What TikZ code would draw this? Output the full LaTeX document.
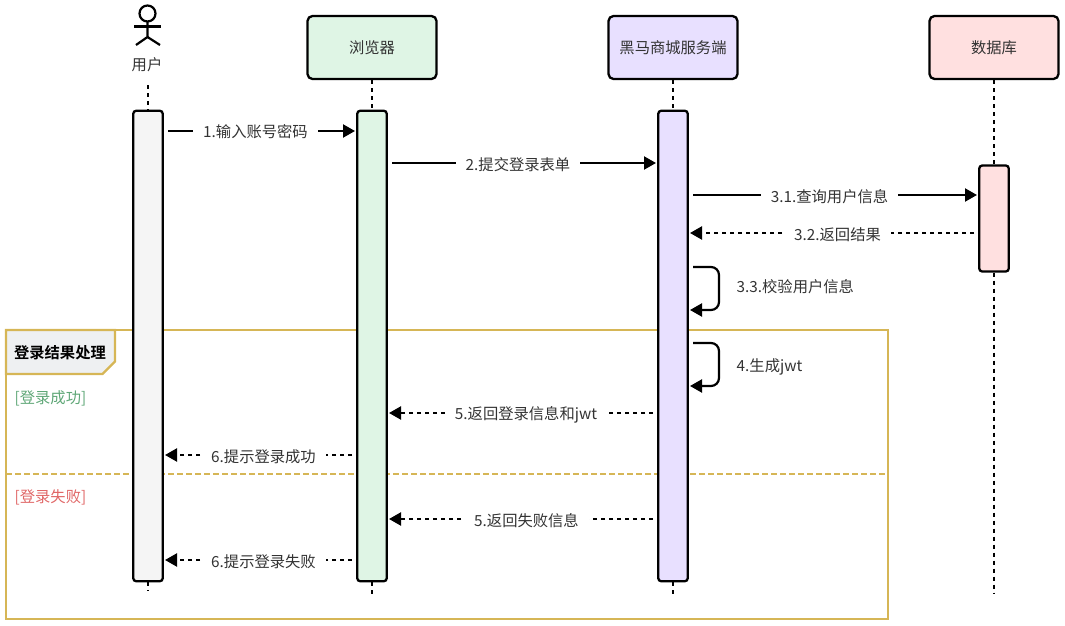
\documentclass[tikz,border=0pt]{standalone}
\usepackage{fontspec}
\setmainfont[BoldFont={Noto Sans CJK SC Bold}]{Noto Sans CJK SC}
\usetikzlibrary{arrows.meta, positioning, calc}
\definecolor{seqblack}{HTML}{000000}
\definecolor{seqtext}{HTML}{333333}
\definecolor{seqgold}{HTML}{D6B656}
\definecolor{seqgray}{HTML}{F5F5F5}
\definecolor{seqgreen}{HTML}{DFF5E5}
\definecolor{seqpurple}{HTML}{E8E0FF}
\definecolor{seqred}{HTML}{FFE0E0}
\definecolor{seqhead}{HTML}{EEF0F2}
\definecolor{seqok}{HTML}{5FA777}
\definecolor{seqfail}{HTML}{E06666}
\tikzset{
  every node/.style={font=\fontsize{15.3}{18}\selectfont, text=seqtext},
  party/.style={draw=seqblack, line width=2.3pt, rounded corners=5pt,
    minimum width=129pt, minimum height=63pt, inner sep=0pt},
  bar/.style={draw=seqblack, line width=2.3pt, rounded corners=3pt,
    minimum width=29.5pt, inner sep=0pt},
  lifeline/.style={line width=2pt, dash pattern=on 4pt off 4pt},
  msg/.style={line width=2.2pt, -{Triangle[length=12pt,width=13pt]}},
  reply/.style={msg, dash pattern=on 4pt off 4pt},
  msglabel/.style={fill=white, inner xsep=10pt, inner ysep=1pt}
}

\begin{document}
\begin{tikzpicture}[x=1pt, y=-1pt]
  \useasboundingbox (0,0) rectangle (1065,626);

  % Frame
  \draw[seqgold, line width=2.2pt] (6,330) rectangle (888,619);
  \draw[seqgold, line width=2.2pt, fill=seqhead]
    (6,330) -- (115,330) -- (115,361.5) -- (102.5,374) -- (6,374) -- cycle;
  \draw[seqgold, line width=2pt, dash pattern=on 5.5pt off 3.5pt] (6,474) -- (888,474);
  \node[font=\fontsize{15.3}{18}\selectfont\bfseries, text=black] (frametitle) at (60,353) {登录结果处理};
  \node[text=seqok, right, inner sep=0pt] (caseok) at (14.5,398.5) {[登录成功]};
  \node[text=seqfail, right, inner sep=0pt] (casefail) at (14.5,497) {[登录失败]};

  % Actor
  \draw[line width=2.2pt] (147.5,13.5) circle (8);
  \draw[line width=2.2pt] (134,26.5) -- (161,26.5);
  \draw[line width=2.2pt] (147.5,21.5) -- (147.5,37) -- (136,45);
  \draw[line width=2.2pt] (147.5,37) -- (160,45);
  \node[inner sep=0pt] (user) at (147,65) {用户};

  % Participants
  \node[party, fill=seqgreen]  (browser) at (372,47.5) {浏览器};
  \node[party, fill=seqpurple] (server)  at (673,47.5) {黑马商城服务端};
  \node[party, fill=seqred]    (db)      at (994,47.5) {数据库};

  % Activation bars
  \node[bar, fill=seqgray,   minimum height=470.5pt] (userbar)    at (148,346)   {};
  \node[bar, fill=seqgreen,  minimum height=470.5pt] (browserbar) at (372,346)   {};
  \node[bar, fill=seqpurple, minimum height=470.5pt] (serverbar)  at (673,346)   {};
  \node[bar, fill=seqred,    minimum height=106pt]   (dbbar)      at (994,218.5) {};

  % Lifelines
  \coordinate (userstart)  at (148,85);
  \coordinate (userend)    at (148,591);
  \coordinate (browserend) at (372,594);
  \coordinate (serverend)  at (673,595);
  \coordinate (dbend)      at (994,593);
  \draw[lifeline] (userstart) -- (userbar.north);
  \draw[lifeline] (browser.south) -- (browserbar.north);
  \draw[lifeline] (server.south) -- (serverbar.north);
  \draw[lifeline] (db.south) -- (dbbar.north);
  \draw[lifeline] (userbar.south) -- (userend);
  \draw[lifeline] (browserbar.south) -- (browserend);
  \draw[lifeline] (serverbar.south) -- (serverend);
  \draw[lifeline] (dbbar.south) -- (dbend);

  % Message end points
  \coordinate (m1a) at (168,131);   \coordinate (m1b) at (355,131);
  \coordinate (m2a) at (392,163);   \coordinate (m2b) at (656,163);
  \coordinate (m3a) at (693,195);   \coordinate (m3b) at (977,195);
  \coordinate (m4a) at (974,233);   \coordinate (m4b) at (690,233);
  \coordinate (m7a) at (653,413);   \coordinate (m7b) at (389,413);
  \coordinate (m8a) at (352,455);   \coordinate (m8b) at (165,455);
  \coordinate (m9a) at (653,519);   \coordinate (m9b) at (389,519);
  \coordinate (m10a) at (352,560);  \coordinate (m10b) at (165,560);

  % Requests
  \draw[msg] (m1a) -- (m1b);
  \draw[msg] (m2a) -- (m2b);
  \draw[msg] (m3a) -- (m3b);

  % Replies
  \draw[reply] (m4a) -- (m4b);
  \draw[reply] (m7a) -- (m7b);
  \draw[reply] (m8a) -- (m8b);
  \draw[reply] (m9a) -- (m9b);
  \draw[reply] (m10a) -- (m10b);

  % Self calls
  \coordinate (m5a) at (693,267);  \coordinate (m5c) at (719,267);
  \coordinate (m5d) at (719,310);  \coordinate (m5b) at (690,310);
  \coordinate (m6a) at (693,343);  \coordinate (m6c) at (719,343);
  \coordinate (m6d) at (719,386);  \coordinate (m6b) at (690,386);
  \draw[msg, rounded corners=8pt] (m5a) -- (m5c) -- (m5d) -- (m5b);
  \draw[msg, rounded corners=8pt] (m6a) -- (m6c) -- (m6d) -- (m6b);

  % Labels
  \node[msglabel] (l1)  at (255.5,131.5) {1.输入账号密码};
  \node[msglabel] (l2)  at (518,164.5)   {2.提交登录表单};
  \node[msglabel] (l3)  at (829.5,196.5) {3.1.查询用户信息};
  \node[msglabel] (l4)  at (837.5,235)   {3.2.返回结果};
  \node[right, inner sep=0pt] (l5) at (736.5,287) {3.3.校验用户信息};
  \node[right, inner sep=0pt] (l6) at (736.5,367) {4.生成jwt};
  \node[msglabel] (l7)  at (526,415)     {5.返回登录信息和jwt};
  \node[msglabel] (l8)  at (263.5,457)   {6.提示登录成功};
  \node[msglabel] (l9)  at (526.5,521)   {5.返回失败信息};
  \node[msglabel] (l10) at (263.5,561.5) {6.提示登录失败};
\end{tikzpicture}
\end{document}
